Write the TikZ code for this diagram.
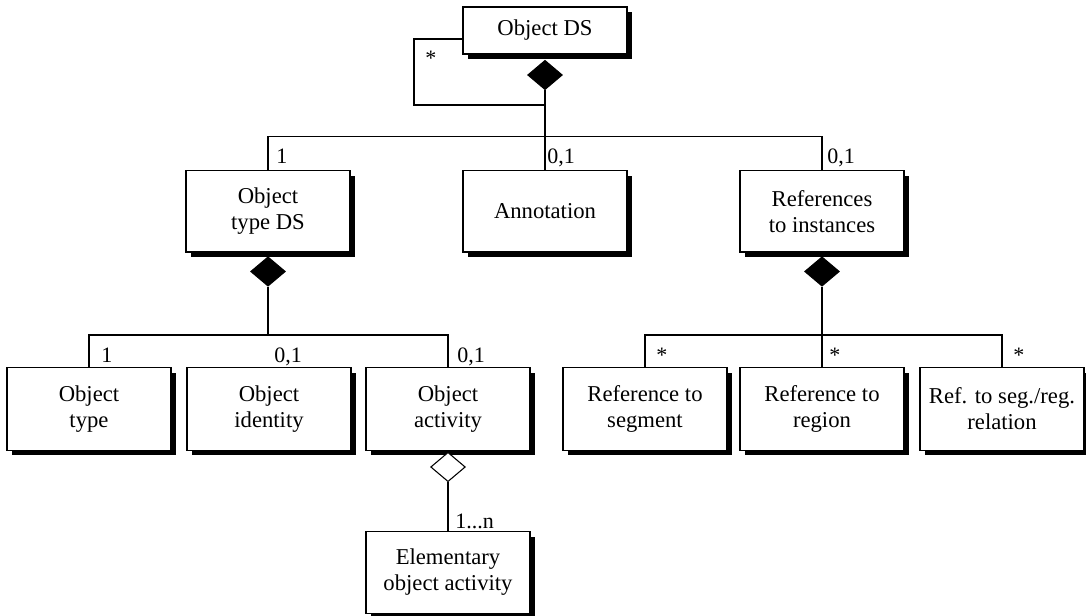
\documentclass[tikz,border=0pt]{standalone}
\usepackage{fontspec}
\setmainfont{Liberation Serif}
\usetikzlibrary{shapes.geometric,shadows}

\tikzset{
  classbox/.style={draw, fill=white, line width=1pt, inner sep=0pt,
    minimum width=123pt, align=center,
    font=\fontsize{17}{19.6}\selectfont,
    drop shadow={shadow xshift=3.75pt, shadow yshift=-3.75pt, opacity=1, fill=black}},
  tallbox/.style={classbox, minimum height=62pt},
  midbox/.style={classbox, minimum height=61pt},
  fulldia/.style={diamond, draw, fill=black, inner sep=0pt, line width=0.8pt,
    minimum width=26pt, minimum height=22pt},
  opendia/.style={fulldia, fill=white},
  mult/.style={anchor=base west, inner sep=0pt, font=\fontsize{16.5}{19}\selectfont},
  link/.style={line width=0.85pt}
}

\begin{document}
\begin{tikzpicture}[x=0.75pt, y=-0.75pt]
\useasboundingbox (0,0) rectangle (1086,616);

% root class and its aggregate parts
\node[classbox, minimum height=35.25pt] (ods) at (545,30.5) {Object DS};
\node[midbox] (otds) at (268,211.5) {Object\\type DS};
\node[midbox] (ann)  at (545,211.5) {Annotation};
\node[midbox] (refi) at (822,211.5) {References\\to instances};

% parts of the object type description
\node[tallbox] (otype) at (89,409)  {Object\\type};
\node[tallbox] (oid)   at (269,409) {Object\\identity};
\node[tallbox] (oact)  at (448,409) {Object\\activity};
\node[tallbox, minimum height=61pt] (eoa) at (448,572.5) {Elementary\\object activity};

% references to instances
\node[tallbox] (rseg) at (645,409)  {Reference to\\segment};
\node[tallbox] (rreg) at (822,409)  {Reference to\\region};
\node[tallbox] (rrel) at (1002,409) {Ref. to seg./reg.\\relation};

% composition / aggregation diamonds
\node[fulldia] (d1) at (545,75) {};
\node[fulldia] (d2) at (268,271.5) {};
\node[fulldia] (d3) at (822,271.5) {};
\node[opendia] (d4) at (448,467) {};

% helper points for the self loop and the buses
\coordinate (lpa) at (414,39);
\coordinate (lpb) at (414,105);
\coordinate (busl) at (0,335);

% Object DS: recursive link and composition bus
\draw[link] (ods.west |- lpa) -- (lpa) -- (lpb) -- (lpb -| d1.south);
\draw[link] (d1.south) -- (ann.north);
\draw[link] (otds.north) -- ++(0,-34) -| (refi.north);

% Object type DS composition bus
\draw[link] (d2.south) -- (d2.south |- busl);
\draw[link] (otype.north) -- ++(0,-32) -| (oact.north);

% References to instances composition bus
\draw[link] (d3.south) -- (rreg.north);
\draw[link] (rseg.north) -- ++(0,-32) -| (rrel.north);

% Object activity aggregation
\draw[link] (d4.south) -- (eoa.north);

% multiplicities
\node[mult] (m0) at (425,66)  {*};
\node[mult] (m1) at (276,164) {1};
\node[mult] (m2) at (547,164) {0,1};
\node[mult] (m3) at (827,164) {0,1};
\node[mult] (m4) at (101,363) {1};
\node[mult] (m5) at (274,363) {0,1};
\node[mult] (m6) at (457,363) {0,1};
\node[mult] (m7) at (455,528) {1...n};
\node[mult] (m8) at (656,363) {*};
\node[mult] (m9) at (829,363) {*};
\node[mult] (m10) at (1013,363) {*};
\end{tikzpicture}
\end{document}
